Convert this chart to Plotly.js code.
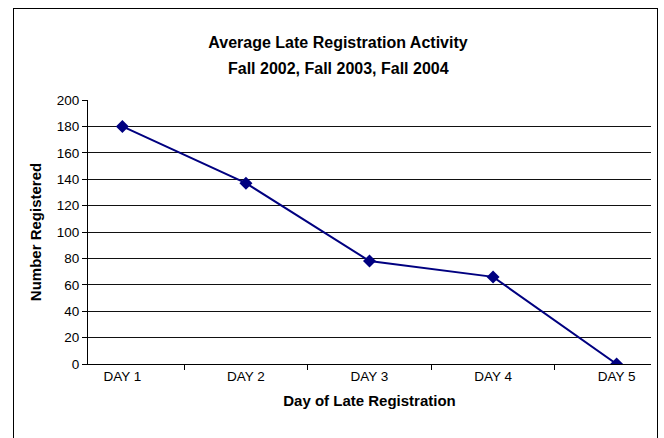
<!DOCTYPE html>
<html>
<head>
<meta charset="utf-8">
<script src="https://cdn.plot.ly/plotly-3.0.1.min.js"></script>
<style>
html,body{margin:0;padding:0;background:#fff;overflow:hidden;}
#wrap{position:relative;width:664px;height:438px;}
#chart{position:absolute;left:0;top:0;width:664px;height:438px;}
#frame{position:absolute;left:13px;top:8px;width:643px;height:440px;border:1px solid #000;pointer-events:none;}
</style>
</head>
<body>
<div id="wrap">
<div id="chart"></div>
<div id="frame"></div>
</div>
<script>
const categories = ["DAY 1", "DAY 2", "DAY 3", "DAY 4", "DAY 5"];
const registered = [180, 137, 78, 66, 0];
const yTicks = [0, 20, 40, 60, 80, 100, 120, 140, 160, 180, 200];
const titleLine1 = "Average Late Registration Activity";
const titleLine2 = "Fall 2002, Fall 2003, Fall 2004";

const font = "Liberation Sans, Arial, sans-serif";
const M = {l: 88, r: 13, t: 100, b: 74};
const W = 664, H = 438;
const plotW = W - M.l - M.r, plotH = H - M.t - M.b;

const trace = {
  x: categories,
  y: registered,
  type: "scatter",
  mode: "lines+markers",
  line: {color: "#000080", width: 2},
  marker: {symbol: "diamond", size: 10, color: "#000080"},
  hoverinfo: "x+y"
};

const layout = {
  width: W,
  height: H,
  margin: M,
  paper_bgcolor: "#fff",
  plot_bgcolor: "#fff",
  showlegend: false,
  font: {family: font, size: 13.5, color: "#000"},
  title: {
    text: "<b>" + titleLine1 + "</b>",
    font: {family: font, size: 16, color: "#000"},
    x: 338/W, xref: "container", xanchor: "center",
    y: 1 - 42.5/H, yref: "container", yanchor: "middle"
  },
  annotations: [{
    text: "<b>" + titleLine2 + "</b>",
    font: {family: font, size: 16, color: "#000"},
    showarrow: false,
    xref: "paper", yref: "paper",
    x: (338 - M.l)/plotW, xanchor: "center",
    y: 1 + (M.t - 68)/plotH, yanchor: "middle"
  }],
  xaxis: {
    type: "category",
    showline: true, linecolor: "#000", linewidth: 1,
    ticks: "outside", tickson: "boundaries", ticklen: 5, tickcolor: "#000",
    showgrid: false, zeroline: false,
    tickfont: {family: font, size: 13.5, color: "#000"},
    title: {text: "<b>Day of Late Registration</b>", font: {family: font, size: 15, color: "#000"}, standoff: 12}
  },
  yaxis: {
    range: [0, 200],
    tickvals: yTicks,
    showline: true, linecolor: "#000", linewidth: 1,
    ticks: "outside", ticklen: 5, tickcolor: "#000",
    showgrid: true, gridcolor: "#111", gridwidth: 1,
    zeroline: false,
    tickfont: {family: font, size: 13.5, color: "#000"},
    title: {text: "<b>Number Registered</b>", font: {family: font, size: 15, color: "#000"}, standoff: 11}
  }
};

Plotly.newPlot("chart", [trace], layout, {displayModeBar: false, staticPlot: true});
</script>
</body>
</html>
